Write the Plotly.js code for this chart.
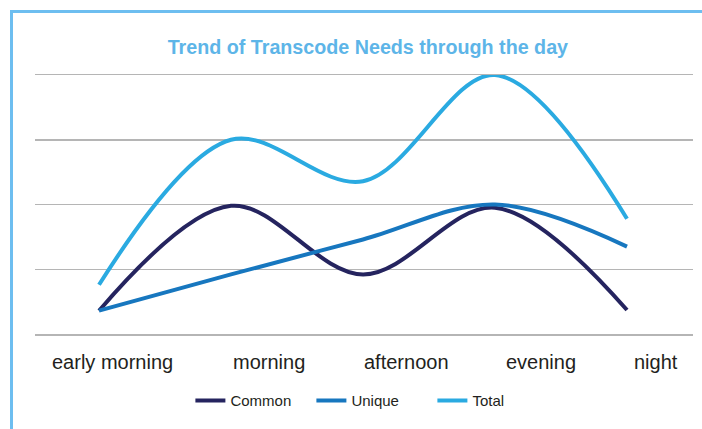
<!DOCTYPE html>
<html>
<head>
<meta charset="utf-8">
<script src="https://cdn.plot.ly/plotly-3.0.1.min.js"></script>
<style>
  html, body { margin: 0; padding: 0; background: #ffffff; }
  #wrap { position: relative; width: 702px; height: 429px; overflow: hidden; }
  #frame { position: absolute; left: 10px; top: 10px; width: 800px; height: 500px;
           border-left: 3px solid #6dbef0; border-top: 3px solid #6dbef0; pointer-events: none; }
  #chart { position: absolute; left: 0; top: 0; width: 702px; height: 429px; }
</style>
</head>
<body>
<div id="wrap">
  <div id="frame"></div>
  <div id="chart"></div>
</div>
<script>
// ---- data ----
const categories = ["early morning", "morning", "afternoon", "evening", "night"];
const commonValues = [0.36, 1.98, 0.92, 1.95, 0.37];
const uniqueValues = [0.36, 0.92, 1.46, 2.0, 1.35];
const totalValues  = [0.76, 3.0, 2.36, 4.0, 1.78];

const xIdx = categories.map((_, i) => i);
const FONT = '"Liberation Sans", Arial, sans-serif';

function series(name, vals, color) {
  return {
    type: 'scatter', mode: 'lines', name: name,
    x: xIdx, y: vals,
    line: { color: color, width: 4, shape: 'spline', smoothing: 1.0 },
    cliponaxis: false, hoverinfo: 'skip'
  };
}

const traces = [
  series('Common', commonValues, '#25245f'),
  series('Unique', uniqueValues, '#1777bf'),
  series('Total', totalValues, '#2aaae1')
];

// label placement offsets (layout only)
const labelShift = [0.10, 0.29, 0.33, 0.35, 0.22];
const annotations = categories.map((c, i) => ({
  x: i + labelShift[i], xref: 'x', y: -0.108, yref: 'paper',
  text: c, showarrow: false, xanchor: 'center', yanchor: 'middle',
  font: { family: FONT, size: 20, color: '#231f20' }
}));

const layout = {
  width: 702, height: 429,
  paper_bgcolor: 'rgba(0,0,0,0)', plot_bgcolor: 'rgba(0,0,0,0)',
  margin: { l: 35, r: 9, t: 75, b: 95 },
  title: {
    text: '<b>Trend of Transcode Needs through the day</b>',
    x: 0.524, xanchor: 'center', y: 1 - 47 / 429, yanchor: 'middle', yref: 'container',
    font: { family: FONT, size: 19.7, color: '#5db5e8' }
  },
  xaxis: {
    range: [-0.485, 4.5], showgrid: false, zeroline: false,
    showline: true, mirror: true, linecolor: '#b5b5b5', linewidth: 1.5,
    showticklabels: false, ticks: '', fixedrange: true
  },
  yaxis: {
    range: [0, 4], tickvals: [1, 2, 3], showgrid: true, gridcolor: '#b5b5b5', gridwidth: 1.5,
    zeroline: false, showline: false, showticklabels: false, ticks: '', fixedrange: true
  },
  showlegend: true,
  legend: {
    orientation: 'h', x: 0.512, xanchor: 'center', y: -0.258, yanchor: 'middle',
    font: { family: FONT, size: 15, color: '#231f20' },
    itemwidth: 30, entrywidth: 76, bgcolor: 'rgba(0,0,0,0)', traceorder: 'normal'
  },
  annotations: annotations
};

Plotly.newPlot('chart', traces, layout, { staticPlot: true, displayModeBar: false });
</script>
</body>
</html>
